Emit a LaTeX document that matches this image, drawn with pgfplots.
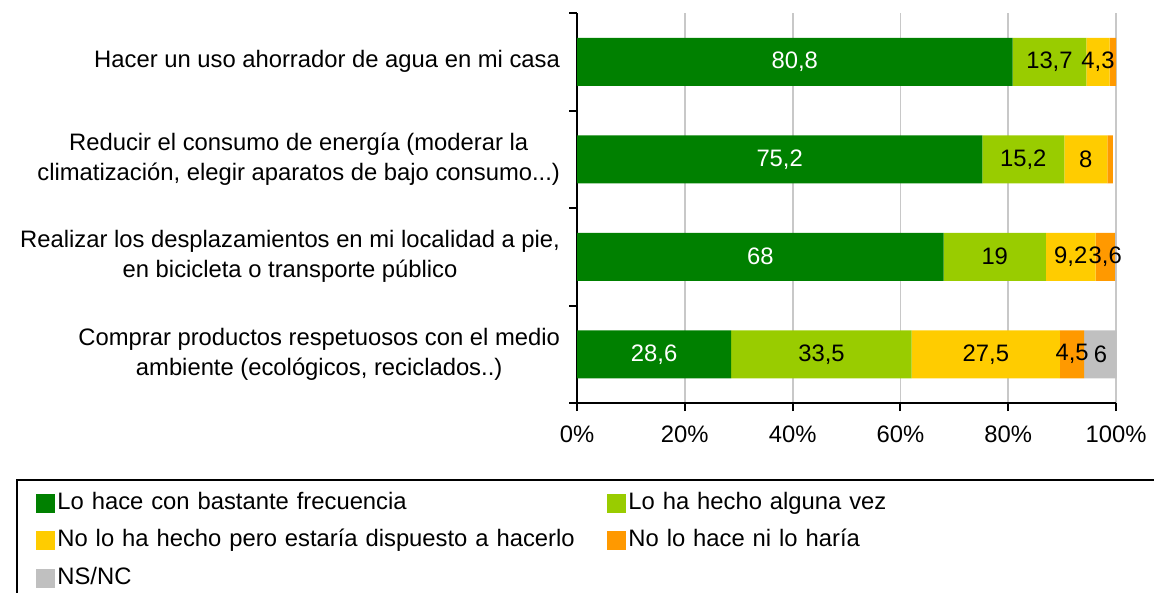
\documentclass[border=0pt]{standalone}
\usepackage{pgfplots}
\pgfplotsset{compat=1.18}
\usepackage{pgfplotstable}
\usepackage{fontspec}
\setmainfont{Liberation Sans}
\newcommand\lbl{\fontsize{11.9}{15}\selectfont}
\definecolor{cA}{HTML}{008000}
\definecolor{cB}{HTML}{99CC00}
\definecolor{cC}{HTML}{FFCC00}
\definecolor{cD}{HTML}{FF9900}
\definecolor{cE}{HTML}{C0C0C0}
\definecolor{gridc}{HTML}{C8C8C8}

\pgfplotstableread{
x y label
80.8 0 80,8
75.2 1 75,2
68 2 68
28.6 3 28,6
}\sA
\pgfplotstableread{
x y label
13.7 0 13,7
15.2 1 15,2
19 2 19
33.5 3 33,5
}\sB
\pgfplotstableread{
x y label
4.3 0 4,3
8 1 8
9.2 2 9,2
27.5 3 27,5
}\sC
\pgfplotstableread{
x y label
1.2 0 {}
1.0 1 {}
3.6 2 3,6
4.5 3 4,5
}\sD
\pgfplotstableread{
x y label
0 0 {}
0 1 {}
0.2 2 {}
6 3 6
}\sE

\begin{document}
\begin{tikzpicture}
\begin{axis}[
  at={(288.5pt,-201.5pt)}, anchor=south west,
  scale only axis, width=269.5pt, height=195pt,
  xbar stacked, bar width=24pt,
  xmin=0, xmax=100, ymin=-0.5, ymax=3.5, y dir=reverse,
  clip=false,
  axis lines*=left, axis line style={line width=1pt,-},
  xtick={0,20,40,60,80,100},
  xticklabel={\pgfmathprintnumber{\tick}\%},
  /pgf/number format/assume math mode=true,
  ticklabel style={font=\lbl},
  ytick={-0.5,0.5,1.5,2.5,3.5}, yticklabels={},
  extra y ticks={0,1,2,3},
  extra y tick labels={
    {Hacer un uso ahorrador de agua en mi casa},
    {Reducir el consumo de energía (moderar la\\climatización, elegir aparatos de bajo consumo.{}.{}.)},
    {Realizar los desplazamientos en mi localidad a pie,\\en bicicleta o transporte público},
    {Comprar productos respetuosos con el medio\\ambiente (ecológicos, reciclados.{}.)}},
  extra y tick style={major tick length=0pt, yticklabel style={align=center, font=\lbl, xshift=-5pt}},
  tick align=outside, xtick pos=left, ytick pos=left,
  major tick length=4pt,
  tick style={black, line width=1pt},
  xmajorgrids, major grid style={gridc, line width=0.9pt},
  xticklabel style={yshift=-4pt},
  nodes near coords,
  point meta=explicit symbolic,
  every node near coord/.append style={font=\lbl},
  legend cell align=left,
  legend columns=2,
  legend style={draw=none, fill=none, font=\lbl,
    at={(rel axis cs:-1.0037,-0.2154)}, anchor=north west,
    inner sep=0pt, row sep=2.75pt,
    nodes={inner xsep=1pt, inner ysep=2pt, text height=9pt, text depth=3pt, text width=274pt, align=left}},
  legend image code/.code={\fill[#1] (0pt,-4.75pt) rectangle (9.5pt,4.75pt);},
]
\addplot[fill=cA, draw=none, every node near coord/.append style={text=white}]
  table[x=x, y=y, meta=label]{\sA};
\addlegendentry{Lo hace con bastante frecuencia}
\addplot[fill=cB, draw=none]
  table[x=x, y=y, meta=label]{\sB};
\addlegendentry{Lo ha hecho alguna vez}
\addplot[fill=cC, draw=none]
  table[x=x, y=y, meta=label]{\sC};
\addlegendentry{No lo ha hecho pero estaría dispuesto a hacerlo}
\addplot[fill=cD, draw=none]
  table[x=x, y=y, meta=label]{\sD};
\addlegendentry{No lo hace ni lo haría}
\addplot[fill=cE, draw=none]
  table[x=x, y=y, meta=label]{\sE};
\addlegendentry{NS/NC}
\end{axis}
\draw[line width=1pt] (8.5pt,-320pt) -- (8.5pt,-240pt) -- (580pt,-240pt);
\pgfresetboundingbox
\path[use as bounding box] (0pt,0pt) rectangle (577pt,-296.5pt);
\end{tikzpicture}
\end{document}
